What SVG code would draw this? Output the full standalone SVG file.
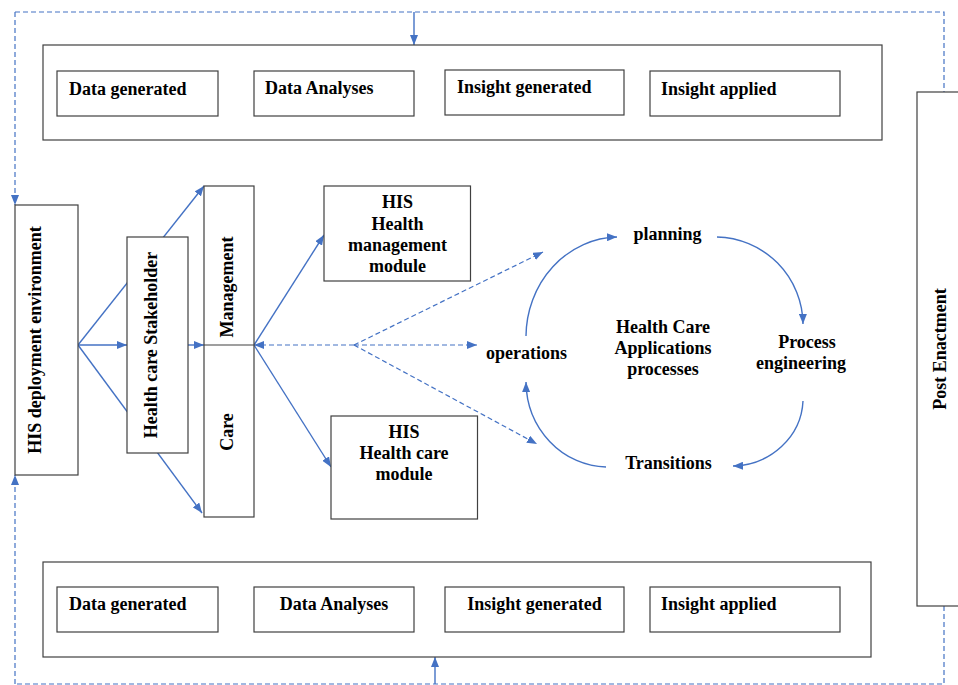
<svg xmlns="http://www.w3.org/2000/svg" width="958" height="685" viewBox="0 0 958 685">
<style>
.box{fill:#fff;stroke:#404040;stroke-width:1.2}
.t{font-family:"Liberation Serif","Times New Roman",serif;font-weight:bold;font-size:18px;fill:#000}
.m{text-anchor:middle}
.c{fill:none;stroke:#4472C4;stroke-width:1.4}
.d{fill:none;stroke:#4472C4;stroke-width:1.2;stroke-dasharray:5 3}
.a{marker-end:url(#ah)}
</style>
<defs>
<marker id="ah" viewBox="0 0 10 8" refX="10" refY="4" markerWidth="10" markerHeight="8" markerUnits="userSpaceOnUse" orient="auto"><path d="M0,0 L10,4 L0,8 z" fill="#4472C4"/></marker>
</defs>
<rect width="958" height="685" fill="#fff"/>

<g id="connectors">
  <!-- outer dashed feedback frame -->
  <path class="d" d="M15,12 H944 V92"/>
  <path class="d a" d="M15,12 V205"/>
  <path class="d" d="M944,606 V684 H15"/>
  <path class="d a" d="M15,684 V475"/>
  <path class="c a" d="M414,12 V45"/>
  <path class="c a" d="M435,684 V657"/>
  <!-- left tree -->
  <path class="c a" d="M78,345 L204,186"/>
  <path class="c a" d="M78,345 L202,513"/>
  <path class="c a" d="M78,345 H127"/>
  <path class="c a" d="M188,345 H204"/>
  <!-- modules -->
  <path class="c a" d="M254,345 L324,235"/>
  <path class="c a" d="M254,345 L331,467"/>
  <path class="d a" d="M354,345 H254"/>
  <path class="d a" d="M354,345 H477"/>
  <path class="d a" d="M354,345 L543,252"/>
  <path class="d a" d="M354,345 L537,444"/>
  <!-- cycle -->
  <path class="c a" d="M526,336 A93 100 0 0 1 617,237"/>
  <path class="c a" d="M717,237 A88 88 0 0 1 803,324"/>
  <path class="c a" d="M803,401 A72 68 0 0 1 733,466"/>
  <path class="c a" d="M606,467 A82 86 0 0 1 526,382"/>
</g>

<g id="top-panel">
  <rect class="box" x="43" y="45" width="839" height="95"/>
  <g id="top-data-generated"><rect class="box" x="57" y="71" width="161" height="45"/><text class="t" x="69" y="95">Data generated</text></g>
  <g id="top-data-analyses"><rect class="box" x="254" y="71" width="160" height="45"/><text class="t" x="265" y="94">Data Analyses</text></g>
  <g id="top-insight-generated"><rect class="box" x="445" y="70" width="179" height="45"/><text class="t" x="457" y="93">Insight generated</text></g>
  <g id="top-insight-applied"><rect class="box" x="650" y="71" width="190" height="45"/><text class="t" x="661" y="95">Insight applied</text></g>
</g>

<g id="bottom-panel">
  <rect class="box" x="43" y="562" width="828" height="95"/>
  <g id="bottom-data-generated"><rect class="box" x="57" y="587" width="161" height="45"/><text class="t" x="69" y="610">Data generated</text></g>
  <g id="bottom-data-analyses"><rect class="box" x="254" y="587" width="160" height="45"/><text class="t m" x="334" y="610">Data Analyses</text></g>
  <g id="bottom-insight-generated"><rect class="box" x="445" y="587" width="179" height="45"/><text class="t m" x="534.5" y="610">Insight generated</text></g>
  <g id="bottom-insight-applied"><rect class="box" x="650" y="587" width="190" height="45"/><text class="t" x="661" y="610">Insight applied</text></g>
</g>

<g id="his-deployment">
  <rect class="box" x="15" y="205" width="63" height="270"/>
  <text class="t m" transform="translate(41,340) rotate(-90)">HIS deployment environment</text>
</g>

<g id="stakeholder">
  <rect class="box" x="127" y="237" width="61" height="216"/>
  <text class="t m" transform="translate(157,345) rotate(-90)">Health care Stakeholder</text>
</g>

<g id="management-care">
  <rect class="box" x="204" y="186" width="50" height="331"/>
  <line x1="204" y1="345" x2="254" y2="345" stroke="#404040" stroke-width="1.2"/>
  <text class="t m" transform="translate(233,287) rotate(-90)">Management</text>
  <text class="t m" transform="translate(233,432) rotate(-90)">Care</text>
</g>

<g id="his-management-module">
  <rect class="box" x="324" y="186" width="146.5" height="95"/>
  <text class="t m" x="397.5" y="208">HIS</text>
  <text class="t m" x="397.5" y="230">Health</text>
  <text class="t m" x="397.5" y="251">management</text>
  <text class="t m" x="397.5" y="272">module</text>
</g>

<g id="his-care-module">
  <rect class="box" x="331" y="416" width="146.5" height="103"/>
  <text class="t m" x="404" y="438">HIS</text>
  <text class="t m" x="404" y="459">Health care</text>
  <text class="t m" x="404" y="480">module</text>
</g>

<g id="operations"><text class="t" x="486" y="359">operations</text></g>
<g id="planning"><text class="t m" x="667.5" y="240">planning</text></g>
<g id="process-engineering">
  <text class="t m" x="807" y="348">Process</text>
  <text class="t m" x="801" y="369">engineering</text>
</g>
<g id="transitions"><text class="t m" x="668.5" y="469">Transitions</text></g>
<g id="hc-processes">
  <text class="t m" x="663" y="333">Health Care</text>
  <text class="t m" x="663" y="354">Applications</text>
  <text class="t m" x="663" y="375">processes</text>
</g>

<g id="post-enactment">
  <rect class="box" x="917" y="92" width="50" height="514"/>
  <text class="t m" transform="translate(946,349) rotate(-90)">Post Enactment</text>
</g>
</svg>
